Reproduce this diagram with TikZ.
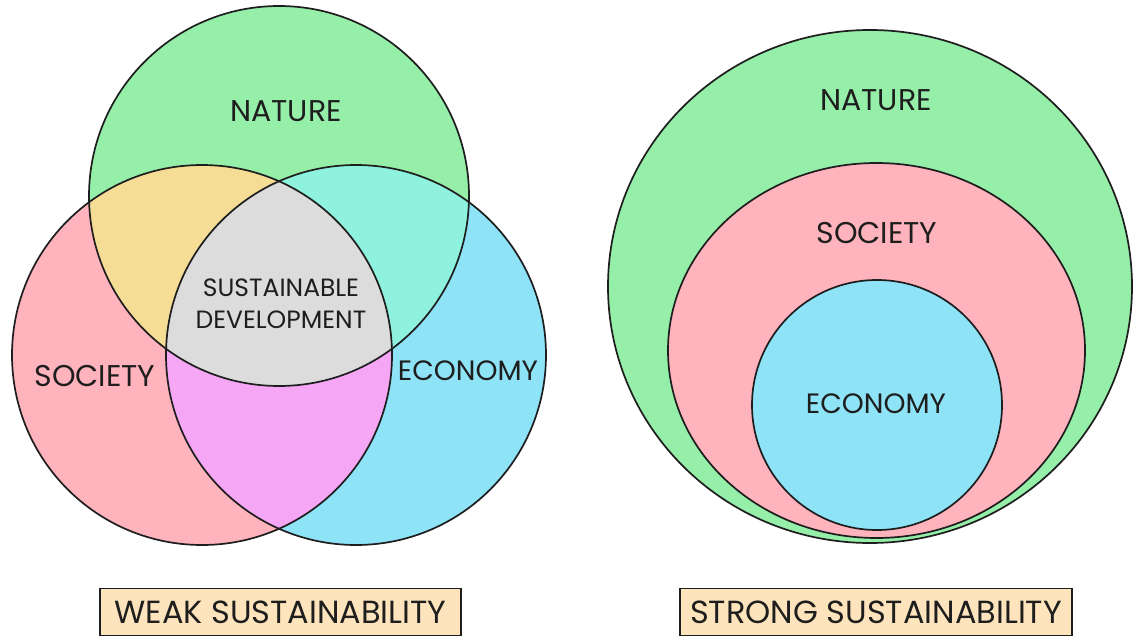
\documentclass[tikz,border=0pt]{standalone}
\usepackage{fontspec}
\setmainfont{Poppins}
\definecolor{natgreen}{HTML}{95EFA9}
\definecolor{socpink}{HTML}{FFB3BD}
\definecolor{ecoblue}{HTML}{8EE3F7}
\definecolor{ovyellow}{HTML}{F5DD95}
\definecolor{ovcyan}{HTML}{8EF2DF}
\definecolor{ovmag}{HTML}{F5A6F5}
\definecolor{ovgray}{HTML}{DCDCDC}
\definecolor{boxpeach}{HTML}{FDE4BC}
\definecolor{ink}{HTML}{1E1E1E}
\tikzset{
  ring/.style={draw=ink, line width=1.7pt},
  lbl/.style={text=ink, font=\fontsize{30}{34}\selectfont, inner sep=0pt},
  lblnarrow/.style={text=ink, font=\fontsize{28}{32}\selectfont, inner sep=0pt},
  lblsmall/.style={text=ink, font=\fontsize{25}{32}\selectfont, align=center, inner sep=0pt},
  tag/.style={draw=ink, line width=1.3pt, fill=boxpeach, minimum width=#1, minimum height=47pt, text=ink, font=\fontsize{32}{36}\selectfont}
}
\begin{document}
\begin{tikzpicture}[x=1pt,y=-1pt]
\useasboundingbox (0,0) rectangle (1134,639);
\fill[white] (0,0) rectangle (1134,639);
% ---- weak sustainability Venn ----
\coordinate (cn) at (279,196);
\coordinate (cs) at (202,355);
\coordinate (ce) at (356,355);
\fill[natgreen] (cn) circle[radius=190pt];
\fill[socpink] (cs) circle[radius=190pt];
\fill[ecoblue] (ce) circle[radius=190pt];
\begin{scope}
  \clip (cn) circle[radius=190pt];
  \fill[ovyellow] (cs) circle[radius=190pt];
  \fill[ovcyan] (ce) circle[radius=190pt];
\end{scope}
\begin{scope}
  \clip (cs) circle[radius=190pt];
  \fill[ovmag] (ce) circle[radius=190pt];
  \clip (ce) circle[radius=190pt];
  \fill[ovgray] (cn) circle[radius=190pt];
\end{scope}
\draw[ring] (cn) circle[radius=190pt];
\draw[ring] (cs) circle[radius=190pt];
\draw[ring] (ce) circle[radius=190pt];
\node[lbl] (wn) at (286,111) {NATURE};
\node[lbl] (ws) at (95,376) {SOCIETY};
\node[lblnarrow] (we) at (468,371) {ECONOMY};
\node[lblsmall] (wsd) at (281,304) {SUSTAINABLE\\DEVELOPMENT};
% ---- strong sustainability nested ----
\coordinate (sn) at (870,286.5);
\coordinate (ss) at (876.5,350.5);
\coordinate (se) at (877,405);
\filldraw[ring, fill=natgreen] (sn) ellipse[x radius=262pt, y radius=256.5pt];
\filldraw[ring, fill=socpink] (ss) ellipse[x radius=208.5pt, y radius=187.5pt];
\filldraw[ring, fill=ecoblue] (se) circle[radius=125pt];
\node[lbl] (sn2) at (876,100) {NATURE};
\node[lbl] (ss2) at (877,233) {SOCIETY};
\node[lblnarrow] (se2) at (876,404) {ECONOMY};
% ---- tags ----
\node[tag=361pt] (tw) at (280.5,612) {WEAK SUSTAINABILITY};
\node[tag=392pt] (ts) at (876,612) {STRONG SUSTAINABILITY};
\end{tikzpicture}
\end{document}
